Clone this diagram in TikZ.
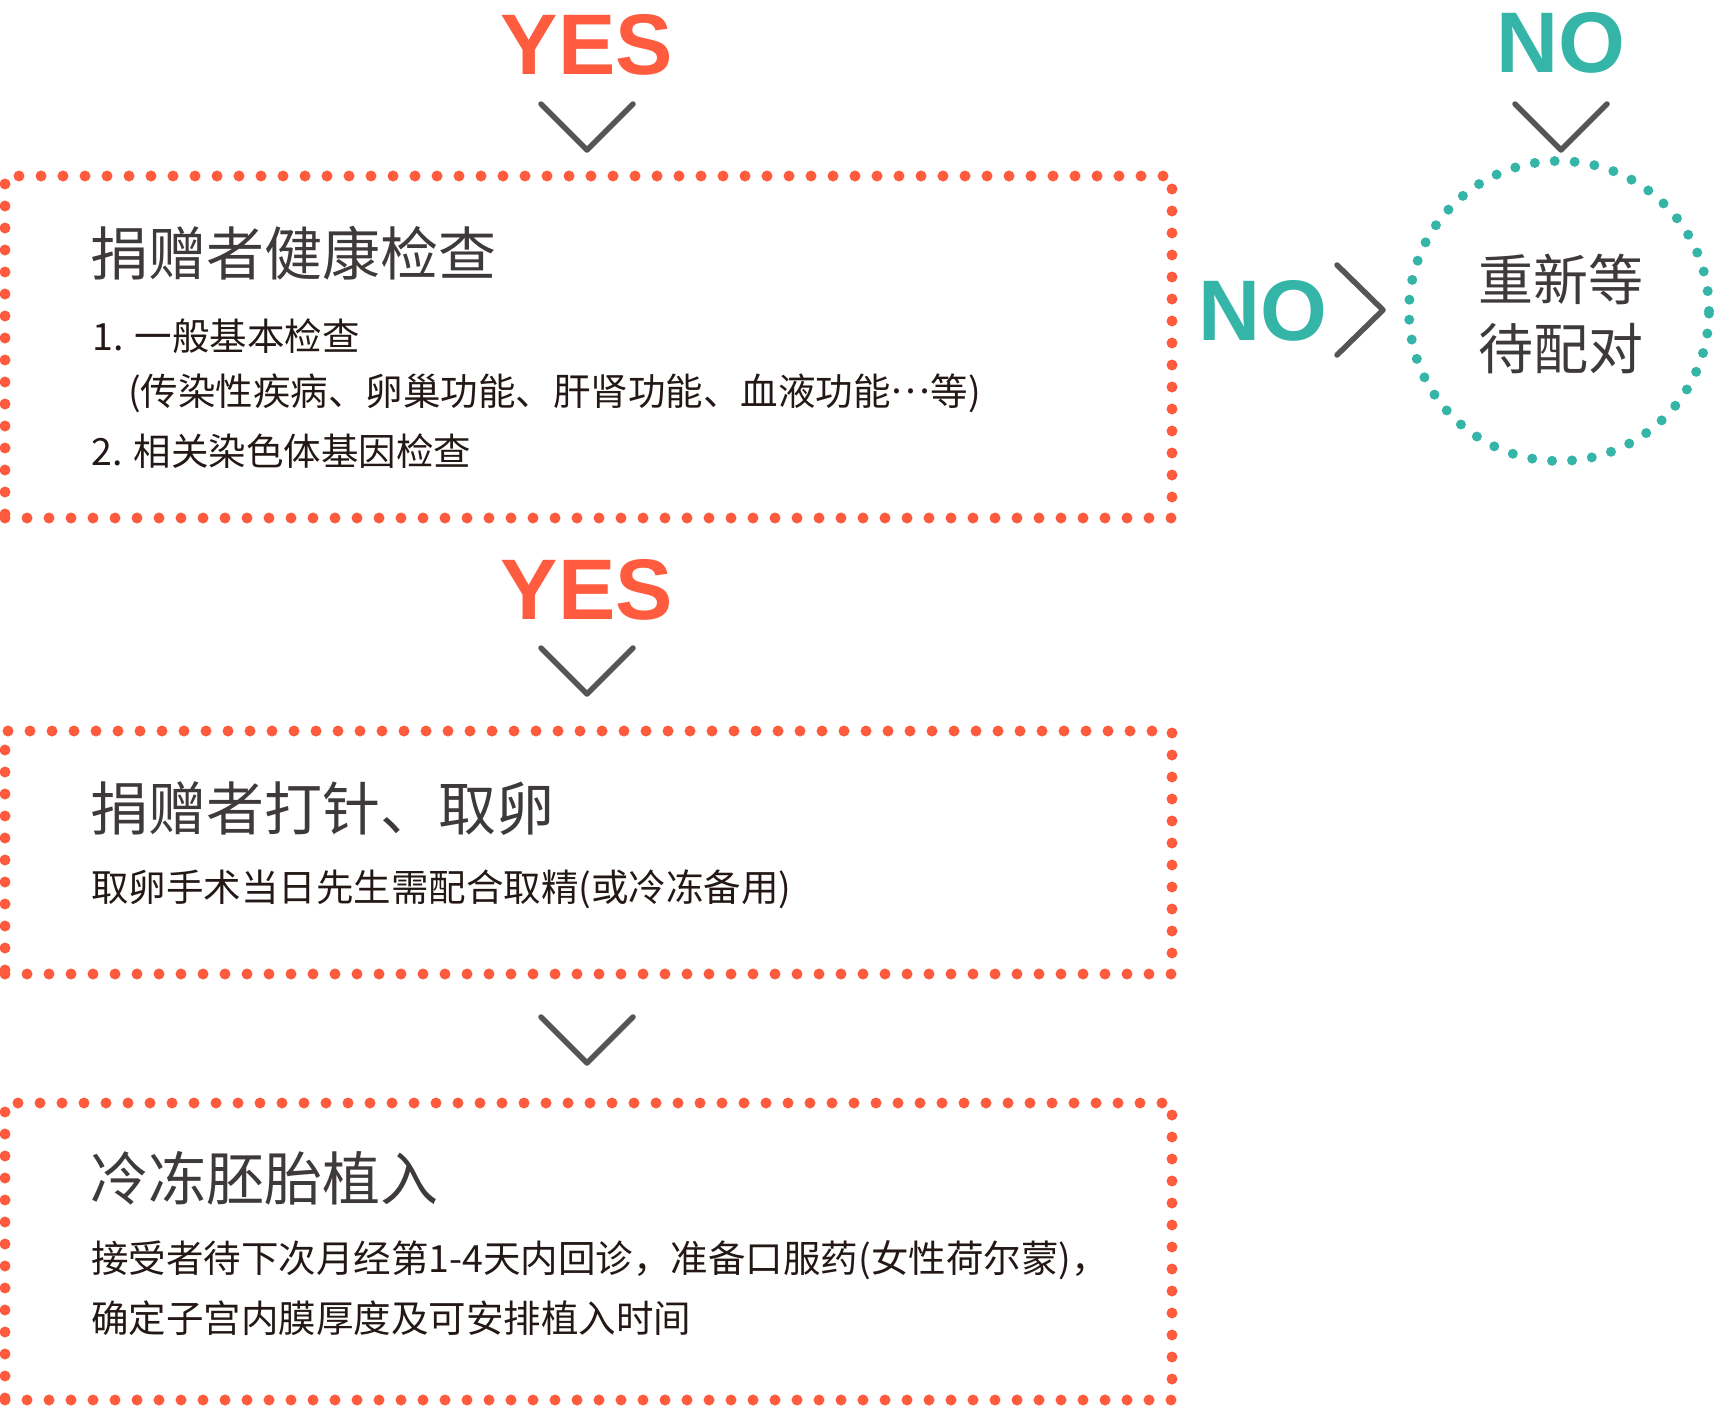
\documentclass[tikz,border=0pt]{standalone}
\usepackage{fontspec}
\setmainfont{Noto Sans CJK SC}
\newfontfamily\yesfont{Liberation Sans}
\definecolor{orng}{HTML}{FF5B3E}
\definecolor{tealc}{HTML}{35B5A8}
\definecolor{chevgray}{HTML}{555555}
\definecolor{titlegray}{HTML}{3E3A39}
\definecolor{bodyblack}{HTML}{231815}
\begin{document}
\begin{tikzpicture}[x=1pt,y=-1pt,
  box/.style={draw=orng, line width=11pt, line cap=round, dash pattern=on 0pt off 22pt,
    rectangle, inner sep=0pt, outer sep=0pt, minimum width=1167pt},
  ring/.style={draw=tealc, line width=10pt, line cap=round, dash pattern=on 0pt off 20pt,
    circle, inner sep=0pt, outer sep=0pt, minimum size=300pt},
  chev/.style={draw=chevgray, line width=5.5pt, line cap=round, line join=round},
  title/.style={anchor=west, inner sep=0pt, text=titlegray, font=\fontsize{58}{70}\selectfont},
  body/.style={anchor=west, inner sep=0pt, text=bodyblack, font=\fontsize{37.5}{58}\selectfont},
  yes/.style={inner sep=0pt, text=orng, font=\yesfont\bfseries\fontsize{86}{90}\selectfont},
  no/.style={yes, text=tealc}]
\useasboundingbox (0,0) rectangle (1714,1406);

% boxes
\node[box, minimum height=342pt] (b1) at (588.5,347) {};
\node[box, minimum height=243pt] (b2) at (588.5,852.5) {};
\node[box, minimum height=297pt] (b3) at (588.5,1251.5) {};
\node[ring] (ring) at (1559,311) {};

% labels
\node[yes] (yes1) at (587,45) {YES};
\node[yes] (yes2) at (587,590) {YES};
\node[no] (notop) at (1561,43) {NO};
\node[no] (nomid) at (1263,311) {NO};

% chevrons
\coordinate (c1) at (587,150);
\coordinate (c2) at (587,694);
\coordinate (c3) at (587,1063);
\coordinate (c4) at (1561,150);
\coordinate (c5) at (1383,310);
\draw[chev] (c1) ++(-46,-46) -- (c1) -- ++(46,-46);
\draw[chev] (c2) ++(-46,-46) -- (c2) -- ++(46,-46);
\draw[chev] (c3) ++(-46,-46) -- (c3) -- ++(46,-46);
\draw[chev] (c4) ++(-46,-46) -- (c4) -- ++(46,-46);
\draw[chev] (c5) ++(-46,-45) -- (c5) -- ++(-46,45);

% box 1 text
\node[title] (t1) at (90,253) {捐赠者健康检查};
\node[body] (t1a) at (92,336) {1. 一般基本检查};
\node[body] (t1b) at (128,393) {(传染性疾病、卵巢功能、肝肾功能、血液功能\raisebox{0.3em}{…}等)};
\node[body] (t1c) at (91,451) {2. 相关染色体基因检查};

% box 2 text
\node[title] (t2) at (90,809) {捐赠者打针、取卵};
\node[body] (t2a) at (91,889) {取卵手术当日先生需配合取精(或冷冻备用)};

% box 3 text
\node[title] (t3) at (90,1178) {冷冻胚胎植入};
\node[body] (t3a) at (91,1260) {接受者待下次月经第1-4天内回诊，准备口服药(女性荷尔蒙)，};
\node[body] (t3b) at (91,1318) {确定子宫内膜厚度及可安排植入时间};

% circle text
\node[inner sep=0pt, align=center, text=titlegray, font=\fontsize{55}{69}\selectfont] (ct) at (1561,314) {重新等\\待配对};
\end{tikzpicture}
\end{document}
